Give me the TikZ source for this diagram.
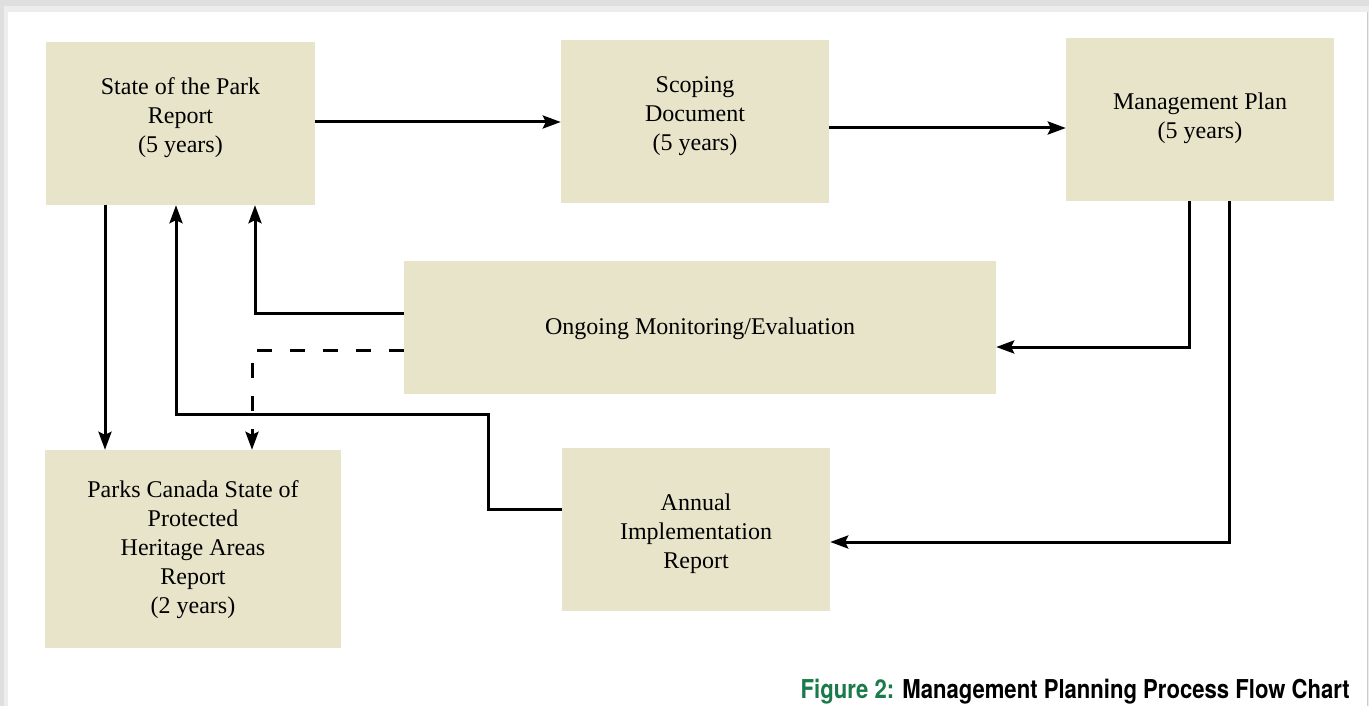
\documentclass[tikz,border=0pt]{standalone}
\usepackage{fontspec}
\setmainfont{Liberation Serif}
\newfontfamily\capfont{TeX Gyre Heros}
\usetikzlibrary{arrows.meta}
\definecolor{boxfill}{HTML}{E8E4CA}
\definecolor{figgreen}{HTML}{1B7A4C}
\tikzset{
  pbox/.style={fill=boxfill, draw=none, inner sep=0pt},
  ptext/.style={inner sep=0pt, align=center, font=\fontsize{24}{29}\selectfont},
  conn/.style={line width=3pt, -{Stealth[length=18pt,width=13pt,inset=3pt]}},
  dashconn/.style={line width=3pt, dash pattern=on 15pt off 18pt, -{Stealth[length=18pt,width=13pt,inset=3pt]}}
}
\begin{document}
\begin{tikzpicture}[x=1pt,y=-1pt]
\useasboundingbox (0,0) rectangle (1369,706);
% page frame with soft shadow
\fill[gray!25] (0,0) rectangle (1369,706);
\fill[gray!14] (4,6) rectangle (1369,706);
\fill[white] (8,12) rectangle (1367,706);
\draw[gray!40, line width=0.8pt] (1367.5,12) -- (1367.5,706);
% boxes
\node[pbox, minimum width=269pt, minimum height=163pt] (sop) at (180.5,123.5) {};
\node[ptext] (sopt) at ([yshift=6pt]sop.center) {State of the Park\\Report\\(5 years)};
\node[pbox, minimum width=268pt, minimum height=163pt] (scope) at (695,121.5) {};
\node[ptext] (scopet) at ([yshift=5pt]scope.center) {Scoping\\Document\\(5 years)};
\node[pbox, minimum width=268pt, minimum height=163pt] (mp) at (1200,119.5) {};
\node[ptext] (mpt) at ([yshift=1pt]mp.center) {Management Plan\\(5 years)};
\node[pbox, minimum width=592pt, minimum height=133pt] (mon) at (700,327.5) {};
\node[ptext] (mont) at ([yshift=-1pt]mon.center) {Ongoing Monitoring/Evaluation};
\node[pbox, minimum width=296pt, minimum height=198pt] (pc) at (193,549) {};
\node[ptext] (pct) at ([yshift=-1pt]pc.center) {Parks Canada State of\\Protected\\Heritage Areas\\Report\\(2 years)};
\node[pbox, minimum width=268pt, minimum height=163pt] (air) at (696,529.5) {};
\node[ptext] (airt) at ([yshift=-4pt]air.center) {Annual\\Implementation\\Report};
% helper coordinates
\coordinate (c1) at (1189,347);
\coordinate (c2) at (1229,542);
\coordinate (c3) at (255,313);
\coordinate (c4) at (252,350);
\coordinate (c5) at (488,509);
\coordinate (c6) at (488,414);
\coordinate (c7) at (176,414);
\coordinate (d0) at (105,205);
% connectors
\draw[conn] (sop.east |- 0,122) -- (scope.west |- 0,122);
\draw[conn] (scope.east |- 0,128) -- (mp.west |- 0,128);
\draw[conn] (c1 |- mp.south) -- (c1) -- (mon.east |- c1);
\draw[conn] (c2 |- mp.south) -- (c2) -- (air.east |- c2);
\draw[conn] (mon.west |- c3) -- (c3) -- (c3 |- sop.south);
\draw[dashconn] (mon.west |- c4) -- (c4) -- (c4 |- pc.north);
\draw[conn] (d0 |- sop.south) -- (d0 |- pc.north);
\draw[conn] (air.west |- c5) -- (c5) -- (c6) -- (c7) -- (c7 |- sop.south);
% caption
\node[anchor=base east, inner sep=0pt, font=\capfont\bfseries\fontsize{26}{30}\selectfont] (cap) at (1350,698)
  {\scalebox{0.85}[1]{\textcolor{figgreen}{Figure 2:} Management Planning Process Flow Chart}};
\end{tikzpicture}
\end{document}
